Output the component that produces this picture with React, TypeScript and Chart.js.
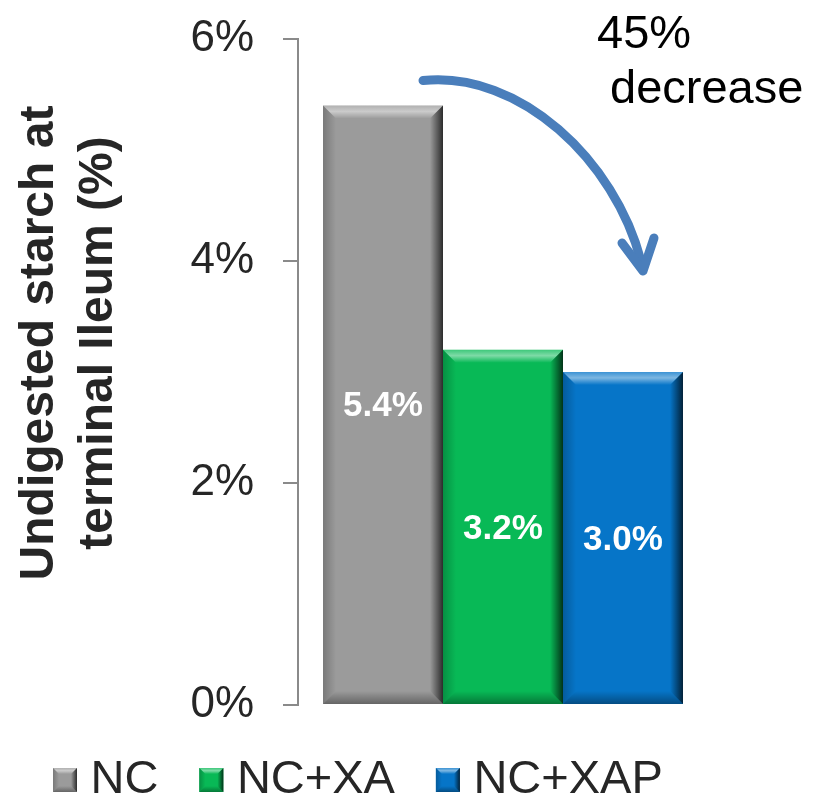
import React, { useEffect, useRef } from 'react';
import { Chart, registerables } from 'chart.js';

Chart.register(...registerables);

// ---- data ----
const categories = [''];
const seriesNames = ['NC', 'NC+XA', 'NC+XAP'];
const seriesValues = [5.4, 3.2, 3.0];
const seriesColors = ['#9b9b9b', '#08b956', '#0675c8'];
const yTickValues = [0, 2, 4, 6];
const yTitleLines = ['Undigested starch at', 'terminal Ileum (%)'];
const noteLines = ['45%', 'decrease'];

const FONT = '"Liberation Sans", Arial, Helvetica, sans-serif';
const TEXT = '#262626';
const AXIS = '#8a8a8a';
const ARROW = '#4a7ebb';

// legend marker geometry: the library box is narrower than the drawn marker
const MARKER = 24;
const LEGEND_BOX = 14;

type Pt = [number, number];

function poly(ctx: CanvasRenderingContext2D, pts: Pt[], fill: string | CanvasGradient) {
  ctx.beginPath();
  ctx.moveTo(pts[0][0], pts[0][1]);
  for (let i = 1; i < pts.length; i++) ctx.lineTo(pts[i][0], pts[i][1]);
  ctx.closePath();
  ctx.fillStyle = fill;
  ctx.fill();
}

// Soft bevel on a rectangle: light top edge, dark right and bottom edges.
function bevel(ctx: CanvasRenderingContext2D, L: number, T: number, R: number, B: number, size: number) {
  const b = Math.min(size, (R - L) / 2, (B - T) / 2);
  let g = ctx.createLinearGradient(0, T, 0, T + b);
  g.addColorStop(0, 'rgba(255,255,255,0.22)');
  g.addColorStop(0.45, 'rgba(255,255,255,0.48)');
  g.addColorStop(1, 'rgba(255,255,255,0)');
  poly(ctx, [[L, T], [R, T], [R - b, T + b], [L + b, T + b]], g);

  g = ctx.createLinearGradient(L, 0, L + b, 0);
  g.addColorStop(0, 'rgba(0,0,0,0.22)');
  g.addColorStop(1, 'rgba(0,0,0,0)');
  poly(ctx, [[L, T], [L + b, T + b], [L + b, B - b], [L, B]], g);

  g = ctx.createLinearGradient(0, B - b, 0, B);
  g.addColorStop(0, 'rgba(0,0,0,0)');
  g.addColorStop(1, 'rgba(0,0,0,0.35)');
  poly(ctx, [[L, B], [R, B], [R - b, B - b], [L + b, B - b]], g);

  g = ctx.createLinearGradient(R - b, 0, R, 0);
  g.addColorStop(0, 'rgba(0,0,0,0)');
  g.addColorStop(1, 'rgba(0,0,0,0.72)');
  poly(ctx, [[R, T], [R, B], [R - b, B - b], [R - b, T + b]], g);
}

const bevelPlugin = {
  id: 'bevelBars',
  afterDatasetsDraw(chart: any) {
    const ctx: CanvasRenderingContext2D = chart.ctx;
    ctx.save();
    chart.data.datasets.forEach((ds: any, i: number) => {
      const meta = chart.getDatasetMeta(i);
      meta.data.forEach((bar: any, j: number) => {
        const { x, y, base, width } = bar.getProps(['x', 'y', 'base', 'width'], true);
        bevel(ctx, x - width / 2, y, x + width / 2, base, 13);
        // value label in the middle of the bar
        const v = ds.data[j] as number;
        ctx.fillStyle = '#ffffff';
        ctx.font = `bold 35px ${FONT}`;
        ctx.textAlign = 'center';
        ctx.textBaseline = 'middle';
        ctx.fillText(`${v.toFixed(1)}%`, x, (y + base) / 2 + 2);
      });
    });
    ctx.restore();
  },
  afterDraw(chart: any) {
    const ctx: CanvasRenderingContext2D = chart.ctx;
    const area = chart.chartArea;
    ctx.save();

    // legend markers: full-size bevelled squares starting at each legend item
    const legend = chart.legend;
    if (legend && legend.legendHitBoxes) {
      const lab = legend.options.labels;
      const fontSize = lab.font.size;
      legend.legendHitBoxes.forEach((hb: any, i: number) => {
        const top = hb.top + Math.max((fontSize - MARKER) / 2, 0);
        const left = hb.left;
        ctx.fillStyle = seriesColors[i];
        ctx.fillRect(left, top, MARKER, MARKER);
        bevel(ctx, left, top, left + MARKER, top + MARKER, 6);
      });
    }

    // rotated two-line axis title
    ctx.fillStyle = TEXT;
    ctx.font = `bold 48px ${FONT}`;
    ctx.textAlign = 'center';
    ctx.textBaseline = 'middle';
    const cy = (area.top + area.bottom) / 2 - 29;
    const lineX = [40, 99];
    yTitleLines.forEach((t, i) => {
      ctx.save();
      ctx.translate(lineX[i], cy);
      ctx.rotate(-Math.PI / 2);
      ctx.fillText(t, 0, 0);
      ctx.restore();
    });

    // curved arrow from the NC bar to the NC+XAP bar
    const first = chart.getDatasetMeta(0).data[0];
    const last = chart.getDatasetMeta(seriesValues.length - 1).data[0];
    const s: Pt = [first.x + 40, first.y - 25];
    const e: Pt = [last.x + 20, last.y - 101];
    ctx.strokeStyle = ARROW;
    ctx.lineWidth = 9;
    ctx.lineCap = 'round';
    ctx.lineJoin = 'round';
    ctx.beginPath();
    ctx.moveTo(s[0], s[1]);
    ctx.bezierCurveTo(s[0] + 97, s[1] - 10, s[0] + 192, s[1] + 80, e[0] - 2, e[1] - 10);
    ctx.stroke();
    ctx.beginPath();
    ctx.moveTo(e[0] - 21, e[1] - 28);
    ctx.lineTo(e[0], e[1]);
    ctx.lineTo(e[0] + 11, e[1] - 33);
    ctx.stroke();

    // annotation text
    ctx.fillStyle = '#000000';
    ctx.font = `47px ${FONT}`;
    ctx.textAlign = 'left';
    ctx.textBaseline = 'alphabetic';
    ctx.fillText(noteLines[0], 597, 48);
    ctx.fillText(noteLines[1], 610, 103);
    ctx.restore();
  },
};

export default function App() {
  const ref = useRef<HTMLCanvasElement | null>(null);

  useEffect(() => {
    if (!ref.current) return;
    const chart = new Chart(ref.current, {
      type: 'bar',
      data: {
        labels: categories,
        datasets: seriesNames.map((name, i) => ({
          label: name,
          data: [seriesValues[i]],
          backgroundColor: seriesColors[i],
          borderColor: seriesColors[i],
          borderWidth: 0,
          categoryPercentage: 0.878,
          barPercentage: 1,
        })),
      },
      options: {
        responsive: false,
        animation: false,
        events: [],
        layout: { padding: { left: 12, top: 39, right: 0, bottom: 0 } },
        plugins: {
          tooltip: { enabled: false },
          legend: {
            position: 'bottom',
            align: 'start',
            maxHeight: 83.5,
            labels: {
              boxWidth: LEGEND_BOX,
              boxHeight: MARKER,
              padding: 41,
              color: TEXT,
              font: { family: FONT, size: 47 },
            },
          } as any,
        },
        scales: {
          x: {
            display: true,
            grid: { display: false },
            border: { display: false },
            ticks: { display: false },
            afterFit: (scale: any) => {
              scale.height = 10.5;
            },
          },
          y: {
            min: 0,
            max: 6,
            afterFit: (scale: any) => {
              scale.width = 286;
            },
            afterBuildTicks: (scale: any) => {
              scale.ticks = yTickValues.map((v) => ({ value: v }));
            },
            grid: {
              drawOnChartArea: false,
              tickLength: 15,
              color: AXIS,
              lineWidth: 2,
            },
            border: { display: true, color: AXIS, width: 2 },
            ticks: {
              padding: 29,
              color: TEXT,
              font: { family: FONT, size: 44, lineHeight: 0.4 },
              callback: (v: any) => `${v}%`,
            },
          },
          // empty right-hand margin beside the plot
          margin: {
            type: 'linear',
            position: 'right',
            display: true,
            grid: { display: false },
            border: { display: false },
            ticks: { display: false },
            afterFit: (scale: any) => {
              scale.width = 115;
            },
          },
        },
      },
      plugins: [bevelPlugin],
    });
    return () => chart.destroy();
  }, []);

  return (
    <div style={{ position: 'absolute', left: 0, top: 0, width: 823, height: 799, background: '#ffffff' }}>
      <canvas ref={ref} width={823} height={799} style={{ display: 'block' }} />
    </div>
  );
}
